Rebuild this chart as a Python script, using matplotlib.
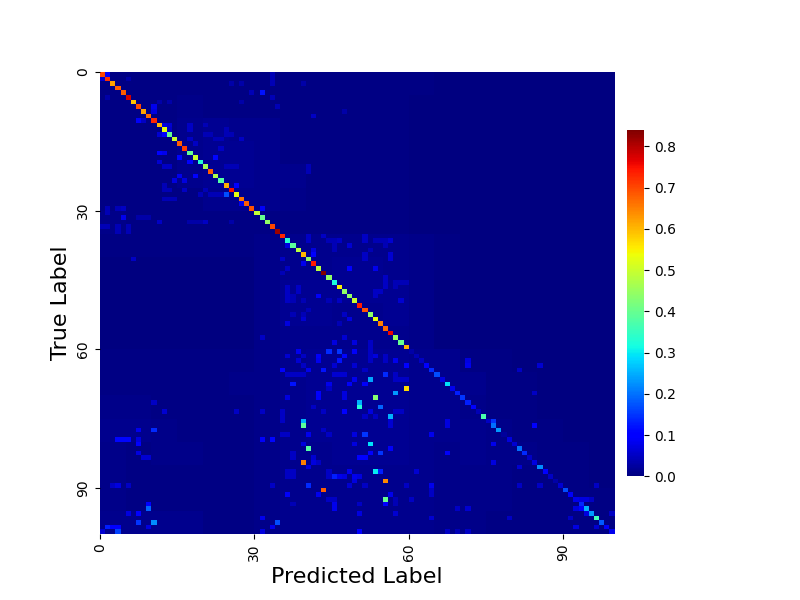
import numpy as np
import matplotlib.pyplot as plt
import seaborn as sns

tick_labels = [0, 30, 60, 90]

diag_values = [
    0.70, 0.72, 0.62, 0.68, 0.68, 0.78, 0.59, 0.70, 0.62, 0.67,
    0.73, 0.60, 0.53, 0.40, 0.50, 0.68, 0.71, 0.40, 0.50, 0.33,
    0.46, 0.68, 0.47, 0.38, 0.61, 0.75, 0.53, 0.66, 0.68, 0.69,
    0.49, 0.40, 0.44, 0.70, 0.82, 0.73, 0.33, 0.39, 0.48, 0.60,
    0.44, 0.74, 0.48, 0.84, 0.44, 0.32, 0.55, 0.44, 0.44, 0.50,
    0.74, 0.69, 0.44, 0.53, 0.65, 0.67, 0.76, 0.45, 0.40, 0.61,
    0.03, 0.04, 0.05, 0.10, 0.14, 0.17, 0.07, 0.29, 0.08, 0.13,
    0.15, 0.13, 0.10, 0.04, 0.37, 0.05, 0.20, 0.23, 0.02, 0.07,
    0.06, 0.20, 0.14, 0.05, 0.07, 0.22, 0.10, 0.05, 0.03, 0.06,
    0.17, 0.09, 0.08, 0.14, 0.25, 0.23, 0.36, 0.18, 0.09, 0.08,
]

# strongest confusions outside the diagonal: (true, predicted, value)
off_rows = [
    68, 70, 66, 69, 65, 71, 72, 72, 74, 75, 76, 81, 84, 90, 92, 88, 86, 86, 80, 78,
    73, 73, 82, 82, 83, 83, 81, 91, 89, 91, 91, 79, 79, 87, 87, 87, 87, 87, 78, 89,
    93, 97, 96, 98, 99, 99, 60, 60, 60, 61, 62, 60, 61, 62, 63, 62, 64, 64, 64, 67,
    67, 67, 67, 69, 70, 69, 70, 70, 66, 78, 78, 80, 80, 84, 85, 86, 88, 89, 94, 93,
    95, 96, 95, 82, 75, 76,
    75, 76, 82, 76, 80, 85, 84, 62, 63, 64, 63, 69, 89, 89, 89, 92, 92, 92, 92, 94, 94, 95, 95, 98,
    94, 94, 99, 99, 99, 98, 96, 96,
    77, 77, 79, 79, 79, 79, 80, 82, 83, 83, 93, 94, 95, 95, 97, 97, 98, 98, 98, 98, 99, 99, 79, 96,
    71, 73, 73, 73, 89, 89, 89,
    0, 1, 4, 7, 8, 10, 10, 11, 11, 13, 13, 12, 11, 12, 17, 17, 18, 18, 19, 19, 22, 22, 23, 23,
    26, 24, 28, 29, 29, 31, 32, 32, 14, 16, 14, 40, 40, 37, 38, 39, 41, 42, 48, 43,
    42, 48, 36, 39, 40, 37, 36, 53, 54, 52, 53, 58, 57, 58, 57,
]
off_cols = [
    59, 53, 52, 57, 55, 50, 50, 54, 56, 39, 39, 40, 39, 43, 55, 55, 53, 54, 52, 51,
    47, 52, 54, 52, 50, 51, 56, 56, 40, 42, 36, 31, 33, 45, 46, 47, 49, 50, 64, 64,
    55, 34, 31, 33, 31, 50, 44, 46, 49, 47, 46, 38, 42, 42, 59, 57, 35, 43, 40, 37,
    44, 48, 51, 42, 42, 47, 47, 36, 49, 49, 40, 39, 49, 41, 40, 48, 49, 48, 45, 45,
    50, 64, 57, 67, 67, 67,
    76, 84, 67, 67, 76, 81, 76, 71, 71, 81, 85, 84, 85, 81, 96, 92, 93, 94, 95, 92, 93, 94, 99, 92,
    71, 69, 71, 67, 69, 96, 91, 79,
    10, 7, 3, 4, 5, 7, 7, 7, 8, 9, 9, 9, 7, 5, 7, 10, 9, 1, 2, 3, 3, 0, 31, 31,
    10, 12, 26, 31, 3, 2, 5,
    1, 0, 31, 10, 10, 7, 8, 12, 13, 12, 11, 13, 17, 17, 11, 12, 15, 22, 17, 11, 15, 18, 14, 16,
    24, 26, 27, 31, 4, 4, 11, 20, 27, 23, 23, 6, 35, 36, 41, 41, 39, 48, 42, 35,
    53, 42, 56, 56, 56, 48, 46, 48, 36, 47, 39, 45, 47, 49, 31,
]
off_vals = [
    0.57, 0.43, 0.24, 0.23, 0.14, 0.25, 0.33, 0.19, 0.25, 0.25, 0.39, 0.38, 0.65, 0.68, 0.40, 0.64, 0.30, 0.13, 0.29, 0.15,
    0.10, 0.07, 0.15, 0.10, 0.10, 0.10, 0.09, 0.08, 0.14, 0.08, 0.09, 0.08, 0.11, 0.13, 0.08, 0.07, 0.08, 0.07, 0.08, 0.08,
    0.10, 0.17, 0.08, 0.08, 0.07, 0.10, 0.14, 0.15, 0.09, 0.11, 0.12, 0.08, 0.09, 0.08, 0.10, 0.08, 0.10, 0.12, 0.08, 0.12,
    0.08, 0.09, 0.09, 0.10, 0.09, 0.07, 0.07, 0.07, 0.08, 0.07, 0.08, 0.07, 0.07, 0.07, 0.07, 0.08, 0.07, 0.06, 0.08, 0.08,
    0.07, 0.06, 0.06, 0.08, 0.07, 0.07,
    0.15, 0.10, 0.09, 0.07, 0.08, 0.06, 0.07, 0.07, 0.08, 0.05, 0.06, 0.05, 0.05, 0.05, 0.05, 0.07, 0.07, 0.07, 0.05, 0.07, 0.10, 0.07, 0.05, 0.07,
    0.06, 0.05, 0.05, 0.05, 0.04, 0.06, 0.05, 0.05,
    0.14, 0.08, 0.11, 0.11, 0.11, 0.07, 0.10, 0.07, 0.06, 0.06, 0.10, 0.19, 0.10, 0.07, 0.15, 0.22, 0.07, 0.13, 0.10, 0.10, 0.16, 0.06, 0.09, 0.08,
    0.05, 0.06, 0.05, 0.05, 0.07, 0.05, 0.05,
    0.10, 0.06, 0.12, 0.08, 0.07, 0.09, 0.05, 0.07, 0.06, 0.10, 0.06, 0.05, 0.05, 0.05, 0.10, 0.08, 0.11, 0.11, 0.10, 0.06, 0.08, 0.10, 0.07, 0.07,
    0.17, 0.10, 0.08, 0.09, 0.05, 0.08, 0.05, 0.05, 0.05, 0.05, 0.04, 0.05, 0.05, 0.07, 0.07, 0.10, 0.08, 0.10, 0.10, 0.04,
    0.08, 0.09, 0.06, 0.06, 0.06, 0.06, 0.05, 0.07, 0.07, 0.05, 0.06, 0.07, 0.06, 0.07, 0.05,
]

# weaker cells, (true, predicted, value)
faint_cells = [
    (61, 36, .06), (62, 38, .06), (61, 39, .05), (63, 39, .05), (63, 45, .06), (63, 49, .06),
    (60, 52, .05), (61, 52, .05), (62, 52, .05), (61, 53, .07), (61, 55, .05), (62, 55, .05),
    (65, 36, .05), (65, 37, .05), (65, 38, .05), (65, 39, .05), (65, 45, .06), (65, 46, .06),
    (65, 47, .06), (64, 51, .05), (65, 57, .05), (66, 57, .05), (66, 58, .05), (66, 59, .05),
    (68, 44, .05), (73, 35, .05), (74, 35, .05), (75, 35, .05), (72, 41, .05), (73, 43, .05),
    (74, 51, .05), (74, 53, .05), (75, 56, .06), (76, 56, .06), (73, 57, .05), (73, 58, .05),
    (78, 36, .05), (78, 35, .05), (77, 43, .05), (78, 44, .05), (82, 37, .05), (83, 37, .05),
    (83, 41, .06), (84, 42, .05), (86, 36, .05), (87, 36, .05), (86, 37, .05), (87, 37, .05),
    (86, 44, .05), (87, 44, .05), (89, 51, .05), (89, 33, .05), (92, 44, .05), (92, 45, .05),
    (93, 45, .05), (93, 37, .04), (93, 50, .05), (89, 59, .05), (92, 57, .04), (93, 57, .04),
    (92, 60, .05), (86, 61, .06), (90, 64, .05), (91, 64, .05),
    (0, 33, .04), (1, 33, .04), (2, 33, .04), (2, 27, .03), (6, 27, .03), (2, 25, .03),
    (1, 5, .03), (5, 1, .03), (6, 11, .03), (6, 13, .03), (11, 20, .04), (13, 20, .04),
    (13, 21, .04), (14, 22, .04), (12, 24, .04), (13, 24, .04), (13, 25, .04), (14, 17, .05),
    (15, 18, .05), (20, 13, .05), (20, 12, .05), (20, 24, .04), (20, 25, .04), (20, 26, .04),
    (24, 12, .04), (25, 12, .04), (25, 13, .04), (25, 16, .05), (25, 20, .04), (26, 21, .04),
    (26, 22, .04), (26, 23, .04), (26, 19, .04), (27, 12, .04), (27, 13, .04), (27, 14, .04),
    (29, 1, .04), (30, 1, .04), (29, 3, .04), (33, 5, .04), (34, 5, .04), (33, 3, .04),
    (34, 3, .04), (33, 0, .04), (33, 1, .04), (31, 7, .03), (31, 8, .03), (31, 9, .03),
    (32, 17, .03), (32, 18, .03), (32, 19, .03), (32, 25, .03), (20, 40, .04), (21, 40, .04),
    (9, 41, .05), (2, 39, .03), (4, 29, .04), (5, 33, .04), (7, 34, .04), (8, 47, .03),
    (35, 43, .05), (36, 46, .06), (37, 48, .05),
    (35, 40, .05), (36, 40, .05), (35, 43, .05), (36, 44, .04), (36, 45, .04), (37, 45, .04),
    (38, 45, .04), (35, 51, .05), (36, 51, .05), (36, 53, .04), (36, 54, .04), (36, 55, .04),
    (37, 55, .04), (39, 51, .05), (40, 51, .05), (38, 52, .04), (40, 35, .05), (42, 36, .05),
    (43, 35, .05), (46, 36, .05), (47, 36, .05), (48, 36, .05), (49, 36, .05), (48, 37, .04),
    (49, 37, .04), (46, 38, .05), (47, 38, .05), (49, 39, .04), (51, 40, .04), (52, 37, .04),
    (52, 39, .04), (49, 46, .05), (49, 44, .04), (54, 46, .04), (44, 55, .05), (45, 55, .05),
    (46, 55, .05), (45, 57, .04), (46, 57, .04), (45, 58, .04), (45, 59, .04), (47, 53, .05),
    (47, 54, .05), (48, 53, .05), (49, 58, .06), (58, 52, .05), (59, 52, .05), (60, 52, .05),
]

# background tint per block of 5x5 cells, in hundredths
block_levels = [
    [.5, .5, .5, .5, .5, .5, .5, .5, .5, .5, .5, .5, .5, .2, .2, .2, .2, .2, .2, .2],
    [.5, .5, .5, .8, .5, .5, .5, .5, .5, .5, .5, .5, .2, .2, .2, .2, .2, .2, .2, .2],
    [.5, .5, .5, 1., 1.5, 1., 1., .5, .5, .5, .5, .5, .2, .2, .2, .2, .2, .2, .2, .2],
    [.5, .5, .5, 1., 1.5, 1.5, 1., .5, .5, .5, .5, .5, .2, .2, .2, .2, .2, .2, .2, .2],
    [.5, .5, .5, 1., 1.5, 1.5, 1., 1., .5, .5, .5, .5, .2, .2, .2, .2, .2, .2, .2, .2],
    [.5, .5, .5, .5, 1., 1., 1., .8, .5, .5, .5, .5, .2, .2, .2, .2, .2, .2, .2, .2],
    [.8, .5, .5, .5, .5, .5, .5, .5, .5, .5, .5, .5, .2, .2, .2, .2, .2, .2, .2, .2],
    [.5, .5, .5, .5, .5, .5, .8, 1.2, 1.2, 1.2, 1.2, 1.2, .8, .5, .2, .2, .2, .2, .2, .2],
    [.3, .3, .3, .3, .3, .3, .8, 1.2, 1.2, 1.5, 1.5, 1.2, .8, .5, .3, .2, .2, .2, .2, .2],
    [.3, .3, .3, .3, .3, .3, .8, 1.5, 1.5, 1.5, 1.5, 1.5, .8, .3, .2, .2, .2, .2, .2, .2],
    [.3, .3, .3, .3, .3, .3, .8, 1.5, 1.5, 1.2, 1.2, 1.5, .8, .3, .2, .2, .2, .2, .2, .2],
    [.3, .3, .3, .3, .3, .3, .8, 1.2, 1.2, 1.2, 1.2, 1.2, .8, .3, .2, .2, .2, .2, .2, .2],
    [.5, .5, .5, .5, .5, .5, .8, 1.2, 1.5, 1.5, 1.5, 1.5, 1.2, 1., .5, .5, .3, .3, .2, .2],
    [.5, .5, .5, .5, .5, .8, .8, 1.2, 1.5, 1.5, 1.5, 1.5, 1.2, 1., 1., .5, .5, .3, .3, .2],
    [.8, .8, .5, .5, .5, .5, .8, 1.2, 1.5, 1.5, 1.5, 1.5, 1.2, 1., .8, .5, .5, .3, .3, .2],
    [1., 1., .8, .5, .5, .5, .8, 1.2, 1.5, 1.5, 1.5, 1.5, 1., 1., 1., .8, .5, .5, .3, .3],
    [.8, .5, .8, .8, .5, .5, .8, 1.2, 1.2, 1.5, 1.5, 1.5, 1., .8, 1., .8, .8, .5, .5, .3],
    [.8, .5, .5, .5, .5, .5, .8, 1.2, 1.2, 1.2, 1.2, 1.2, 1., .8, .8, .8, .5, .5, .5, .3],
    [.8, .5, .5, .5, .5, .5, .8, 1., 1.2, 1.2, 1.2, 1., 1., .8, .8, .8, .5, .5, .5, .5],
    [1.2, 1., 1., 1., .5, .5, .8, 1., 1.2, 1.2, 1.2, 1., 1., .8, .8, .5, .5, .5, .5, .5],
]

cm = np.kron(np.array(block_levels) / 100, np.ones((5, 5)))
for r, c, v in faint_cells:
    cm[r, c] = v
for r, c, v in zip(off_rows, off_cols, off_vals):
    cm[r, c] = v
cm[np.arange(100), np.arange(100)] = diag_values

plt.rcParams['figure.figsize'] = 8, 6
fig = plt.figure()
ax = sns.heatmap(cm, cmap='jet', vmin=0, cbar_kws={'shrink': 0.75, 'pad': 0.02})
ax.set_xticks(tick_labels)
ax.set_xticklabels(tick_labels, rotation=90)
ax.set_yticks(tick_labels)
ax.set_yticklabels(tick_labels, rotation=90)
ax.set_xlabel('Predicted Label', fontsize=16)
ax.set_ylabel('True Label', fontsize=16)
plt.savefig('out.png', dpi=100)
